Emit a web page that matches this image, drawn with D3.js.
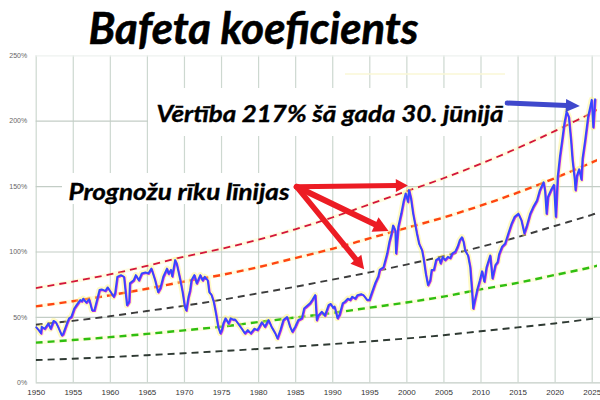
<!DOCTYPE html>
<html><head><meta charset="utf-8">
<script src="https://cdn.jsdelivr.net/npm/d3@7"></script>
<style>body{margin:0;background:#fff}svg{display:block}</style>
</head><body>
<svg id="c" width="600" height="400"></svg>
<script>
// ---------- DATA ----------
const yTicks = [0, 50, 100, 150, 200, 250];
const xTicks = [1950,1955,1960,1965,1970,1975,1980,1985,1990,1995,2000,2005,2010,2015,2020,2025];
const trendYears = [1950,1955,1960,1965,1970,1975,1980,1985,1990,1995,2000,2005,2010,2015,2020,2025,2026];
const lineTop    = [72,77,82.5,89,96,102,109,117,126,136,146,156,167,179,192,206,209];
const lineOrange = [58,62,66.5,71.5,77,82,88,95,102,110,118,126,135,145,156,168,170.5];
const lineBlack  = [44,47,50.5,54.5,58.5,63,68,73,78.5,84,90,96.5,103.5,111,119.5,128,130];
const lineGreen  = [30.3,32.3,34.5,37,39.7,42.5,46,49.5,53,57,61,65.5,71,76,82,88,89.5];
const lineBottom = [17,18,19.3,20.7,22.2,23.8,25.5,27.3,29.2,31.3,33.5,36,39,42,45,48.5,49.2];

const seriesYears = [1950.0,1950.4,1950.7,1950.8,1951.2,1951.7,1952.0,1952.4,1952.7,1953.0,1953.5,1953.7,1954.2,1954.5,1954.8,
1955.2,1955.5,1956.0,1956.2,1956.4,1956.8,1957.2,1957.6,1957.9,1958.2,1958.6,1958.9,1959.4,1959.7,1960.0,1960.5,1960.7,
1961.0,1961.5,1961.9,1962.3,1962.6,1962.7,1963.2,1963.5,1963.9,1964.3,1964.8,1965.2,1965.6,1966.1,1966.5,1966.8,1967.2,
1967.7,1967.9,1968.25,1968.4,1968.8,1969.0,1969.5,1969.8,1970.1,1970.3,1970.6,1970.8,1971.0,1971.4,1971.7,1972.2,1972.5,
1972.8,1973.2,1973.4,1973.7,1974.0,1974.3,1974.6,1974.9,1975.1,1975.3,1975.6,1976.0,1976.3,1976.6,1976.9,1977.3,1977.8,
1978.2,1978.6,1979.0,1979.5,1979.9,1980.5,1980.9,1981.4,1981.8,1982.3,1982.6,1983.0,1983.4,1983.9,1984.3,1984.6,1985.0,
1985.4,1985.9,1986.2,1986.5,1987.0,1987.3,1987.7,1987.9,1988.1,1988.6,1989.0,1989.5,1989.8,1990.1,1990.3,1990.7,1991.0,
1991.4,1991.7,1992.1,1992.4,1992.7,1993.1,1993.4,1993.9,1994.2,1994.7,1995.0,1995.3,1995.8,1996.2,1996.4,1996.9,1997.4,
1997.7,1998.0,1998.2,1998.5,1998.6,1998.9,1999.3,1999.6,1999.9,2000.2,2000.35,2000.6,2000.9,2001.1,2001.4,2001.7,2002.1,
2002.3,2002.6,2002.9,2003.2,2003.4,2003.7,2004.0,2004.4,2004.6,2004.9,2005.2,2005.6,2005.9,2006.2,2006.6,2006.9,2007.2,
2007.5,2007.7,2007.9,2008.3,2008.6,2008.8,2009.0,2009.2,2009.6,2009.9,2010.2,2010.5,2010.8,2011.3,2011.6,2012.0,2012.3,
2012.5,2012.9,2013.3,2013.75,2014.2,2014.6,2015.1,2015.5,2015.9,2016.2,2016.7,2017.1,2017.6,2018.0,2018.5,2018.7,2018.9,
2019.1,2019.5,2019.9,2020.15,2020.4,2020.7,2021.0,2021.3,2021.6,2021.9,2022.2,2022.4,2022.7,2022.8,2023.0,2023.3,2023.6,
2023.75,2024.1,2024.5,2024.8,2025.0,2025.2,2025.45];
const seriesValues = [42.5,40,37.5,42.5,41,45,41,47,46,42.5,36,37,45,49,50,
56.5,59,63,62,64,61,63.5,55,55,61.6,70.6,71,70,72.6,70,65.5,68,
80.7,82,80.7,59,61.7,75.7,78,82,78,83.3,84,83.3,87,78,69,72,80.7,
87,83,86,81,93.5,91,78,69,57.8,55,65.5,70,78,82,75.7,82,78,
80.7,78,69,67,61.6,52.7,42.5,37.5,40,45,49,45,49,48,48,45,41,
37.5,40,37.5,41,40,46,42.5,47.6,42.5,37.5,33.6,40,47.6,50,42.5,38.7,42.5,
47.6,49,56.5,58,60.4,63,66.7,47.6,51,54,51,59,60,57,58,49,52,
60.4,61.6,64,63,65.5,64,66.7,67.5,66.7,63,63,68,76,81,86,88,98.6,
107.5,114,120,116,98.6,119,129,138,144.5,138,147,141,129,123,114,106,101,
95,83.3,74.4,78,86,86,93.5,95,91,96,93.5,96,95,98.6,100,103.7,108.8,
111,107.5,101,97,88,73,56.5,62,72,78,85,77,88,97,79.5,89.7,92,
98,103.7,106,114,121.6,126.6,129,124,114,119,129,134,139,147,153,146,129,
142,147,151,126.6,157,172.5,185,198,207,203,185,170,155,147,158,163,155,
171,185,203,210.7,216,195,217];

const titleText = "Bafeta koeficients";
const valueNote = "Vērtība 217% šā gada 30. jūnijā";
const linesNote = "Prognožu rīku līnijas";
// arrow annotations in data space [year, value]
const redOrigin = [1985.2, 149.5];
const redTips = [[2000.2, 150.5], [1997.6, 115.7], [1994.3, 86.4]];
const blueArrow = [[2013.6, 213.5], [2023.4, 211.2]];

// ---------- CHART ----------
const svg = d3.select("#c");
const x = d3.scaleLinear().domain([1950, 2025]).range([35.7, 591.7]);
const y = d3.scaleLinear().domain([0, 250]).range([382.3, 55.3]);

const gx = svg.append("g").attr("transform", `translate(0,${y(0)})`)
  .call(d3.axisBottom(x).tickValues(xTicks).tickFormat(d3.format("d"))
        .tickSize(-(y(0) - y(250))).tickPadding(6));
gx.select(".domain").remove();
gx.selectAll("line").attr("stroke", "#cdd8d0").attr("stroke-width", 1.2);
gx.selectAll("text").attr("font-family", "Liberation Sans, Arial, sans-serif")
  .attr("font-size", 8).attr("fill", "#333").attr("dy", "0.9em");

const gy = svg.append("g").attr("transform", `translate(${x(1950)},0)`)
  .call(d3.axisLeft(y).tickValues(yTicks).tickFormat(d => d + "%")
        .tickSize(-(600 - x(1950))).tickPadding(8.5));
gy.select(".domain").remove();
gy.selectAll("line").attr("stroke", d => d === 250 ? "#eef2ef" : "#c3cdc6").attr("stroke-width", 1.2);
gy.selectAll("text").attr("font-family", "Liberation Sans, Arial, sans-serif")
  .attr("font-size", 7).attr("fill", "#666");

svg.append("rect").attr("x", 148).attr("y", 88).attr("width", 360).attr("height", 48).attr("fill", "#fff");
svg.append("rect").attr("x", 62).attr("y", 173).attr("width", 232).attr("height", 31).attr("fill", "#fff");
svg.append("line").attr("x1", 345).attr("x2", 505).attr("y1", 74).attr("y2", 74)
  .attr("stroke", "#faf7d6").attr("stroke-width", 1.5);

svg.append("defs").append("clipPath").attr("id", "clp").append("rect")
  .attr("x", x(1950)).attr("y", 40).attr("width", 597 - x(1950)).attr("height", 350);

const trendLine = d3.line().x((d, i) => x(trendYears[i])).y(d => y(d)).curve(d3.curveCatmullRom);
const trends = [
  {v: lineTop,    c: "#d4163a", w: 1.8, glow: true},
  {v: lineOrange, c: "#ff4510", w: 2.4, glow: true},
  {v: lineBlack,  c: "#3c3c3c", w: 1.9, glow: false},
  {v: lineGreen,  c: "#2fbf10", w: 2.4, glow: true},
  {v: lineBottom, c: "#2f3a33", w: 1.9, glow: false}
];
const tg = svg.append("g").attr("clip-path", "url(#clp)");
trends.forEach(t => {
  if (t.glow) tg.append("path").attr("d", trendLine(t.v)).attr("fill", "none")
    .attr("stroke", "#fff27a").attr("stroke-opacity", 0.22).attr("stroke-width", 4);
  tg.append("path").attr("d", trendLine(t.v)).attr("fill", "none")
    .attr("stroke", t.c).attr("stroke-width", t.w).attr("stroke-dasharray", "7,5");
});

const pts = seriesYears.map((yr, i) => [yr, seriesValues[i]]);
const sLine = d3.line().x(d => x(d[0])).y(d => y(d[1]));
const sg = svg.append("g");
sg.append("path").attr("d", sLine(pts)).attr("fill", "none")
  .attr("stroke", "#fff36b").attr("stroke-opacity", 0.4).attr("stroke-width", 6).attr("stroke-linejoin", "round");
sg.append("path").attr("d", sLine(pts)).attr("fill", "none").attr("transform", "translate(0.7,0.8)")
  .attr("stroke", "#b52cf0").attr("stroke-width", 1.8).attr("stroke-linejoin", "round");
sg.append("path").attr("d", sLine(pts)).attr("fill", "none")
  .attr("stroke", "#3447ff").attr("stroke-width", 1.8).attr("stroke-linejoin", "round");

function arrow(p0, p1, color, bodyW, headL, headW) {
  const x0 = x(p0[0]), y0 = y(p0[1]), x1 = x(p1[0]), y1 = y(p1[1]);
  const dx = x1 - x0, dy = y1 - y0, len = Math.hypot(dx, dy);
  const ux = dx / len, uy = dy / len, nx = -uy, ny = ux;
  const bx = x1 - ux * headL, by = y1 - uy * headL;
  svg.append("line").attr("x1", x0).attr("y1", y0).attr("x2", bx + ux).attr("y2", by + uy)
    .attr("stroke", color).attr("stroke-width", bodyW).attr("stroke-linecap", "round");
  svg.append("polygon").attr("points",
    [[x1, y1], [bx + nx * headW, by + ny * headW], [bx - nx * headW, by - ny * headW]].map(p => p.join(",")).join(" "))
    .attr("fill", color);
}
arrow(redOrigin, redTips[0], "#ec1c24", 5, 12, 6.5);
arrow(redOrigin, redTips[1], "#ec1c24", 6, 15, 8);
arrow(redOrigin, redTips[2], "#ec1c24", 5.5, 13, 7);
arrow(blueArrow[0], blueArrow[1], "#3f48cc", 5, 14, 6.5);

const font = "Lato, 'Open Sans', sans-serif";
function label(txt, x0, y0, size, len) {
  svg.append("text").attr("x", x0).attr("y", y0).text(txt)
    .attr("font-family", font).attr("font-weight", 700).attr("font-style", "italic")
    .attr("font-size", size).attr("fill", "#000")
    .attr("stroke", "#000").attr("stroke-width", size > 30 ? 0.6 : 0.35)
    .attr("textLength", len).attr("lengthAdjust", "spacingAndGlyphs");
}
label(titleText, 88.5, 44, 44, 330);
label(valueNote, 156.5, 121.5, 22, 347);
label(linesNote, 68.5, 200, 22, 221);
</script>
</body></html>
